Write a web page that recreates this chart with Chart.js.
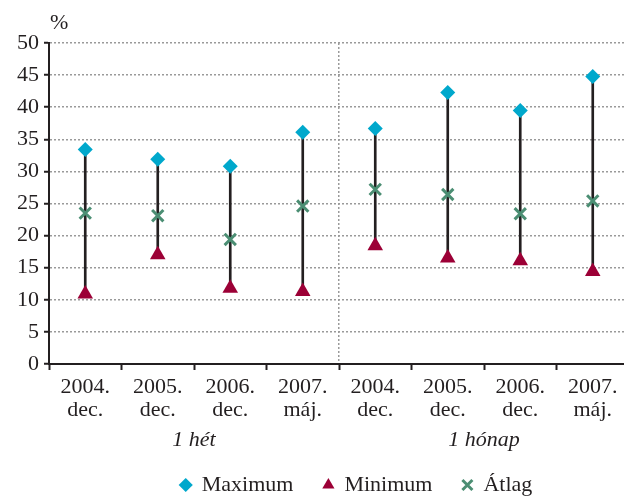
<!DOCTYPE html>
<html>
<head>
<meta charset="utf-8">
<script src="https://cdn.jsdelivr.net/npm/chart.js@4"></script>
<style>
  body { margin: 0; overflow: hidden; background: #fff; }
  canvas { display: block; }
</style>
</head>
<body>
<canvas id="chart" width="640" height="496"></canvas>
<script>
// categories
const years = ["2004.", "2005.", "2006.", "2007.", "2004.", "2005.", "2006.", "2007."];
const months = ["dec.", "dec.", "dec.", "máj.", "dec.", "dec.", "dec.", "máj."];
const groups = ["1 hét", "1 hónap"];

// series values (%)
const maxVals = [33.4, 31.9, 30.8, 36.1, 36.7, 42.3, 39.5, 44.8];
const minVals = [10.9, 17.0, 11.8, 11.3, 18.4, 16.5, 16.1, 14.4];
const avgVals = [23.5, 23.1, 19.4, 24.6, 27.2, 26.4, 23.4, 25.4];

const ink = "#231f20";
const dots = "#9a9a9a";

Chart.defaults.font.family = "'Liberation Serif', 'Times New Roman', serif";
Chart.defaults.font.size = 22;
Chart.defaults.color = ink;

// "%" above the value axis, legend nudged like the original
const extras = {
    id: "extras",
    afterLayout(chart) {
        const lg = chart.legend;
        lg.left += 40;
        lg.right += 40;
        lg.top -= 18;
        lg.bottom -= 18;
    },
    afterDraw(chart) {
        const ctx = chart.ctx;
        ctx.save();
        ctx.font = "22px 'Liberation Serif', serif";
        ctx.fillStyle = ink;
        ctx.textAlign = "left";
        ctx.textBaseline = "middle";
        ctx.fillText("%", chart.chartArea.left + 1, chart.chartArea.top - 20);
        ctx.restore();
    }
};

new Chart("chart", {
    type: "bar",
    data: {
        labels: years.map((y, i) => [y, months[i]]),
        datasets: [{
            label: "range",
            data: minVals.map((v, i) => [v, maxVals[i]]),
            backgroundColor: ink,
            borderWidth: 0,
            barThickness: 2,
            order: 4
        }, {
            type: "line",
            label: "Maximum",
            data: maxVals,
            showLine: false,
            pointStyle: "rectRot",
            pointRadius: 7.5,
            pointHoverRadius: 7.5,
            pointBackgroundColor: "#00a8cc",
            pointBorderColor: "#00a8cc",
            pointBorderWidth: 0,
            order: 1
        }, {
            type: "line",
            label: "Minimum",
            data: minVals,
            showLine: false,
            pointStyle: "triangle",
            pointRadius: 9,
            pointHoverRadius: 9,
            pointBackgroundColor: "#9c0036",
            pointBorderColor: "#9c0036",
            pointBorderWidth: 0,
            order: 2
        }, {
            type: "line",
            label: "Átlag",
            data: avgVals,
            showLine: false,
            pointStyle: "crossRot",
            pointRadius: 8,
            pointHoverRadius: 8,
            pointBackgroundColor: "#4b8e73",
            pointBorderColor: "#4b8e73",
            pointBorderWidth: 3,
            order: 3
        }]
    },
    options: {
        responsive: false,
        animation: false,
        layout: {
            padding: { top: 43, right: 7, bottom: -28, left: 0 }
        },
        scales: {
            x: {
                offset: true,
                grid: {
                    offset: true,
                    drawOnChartArea: false,
                    tickLength: 6,
                    tickColor: ink,
                    tickWidth: 2,
                    tickBorderDash: []
                },
                border: { color: ink, width: 2 },
                ticks: { padding: 5.5, font: { lineHeight: 1.05 }, maxRotation: 0 },
                afterFit: (scale) => { scale.height = 62; }
            },
            x2: {
                type: "category",
                position: "bottom",
                labels: groups,
                offset: true,
                grid: {
                    offset: true,
                    drawTicks: false,
                    lineWidth: 1.5,
                    color: (c) => c.index === 1 ? dots : "transparent"
                },
                border: { display: false, dash: [2, 2] },
                ticks: { padding: 1, font: { style: "italic" } },
                afterFit: (scale) => { scale.height = 36; }
            },
            y: {
                min: 0,
                max: 50,
                ticks: { stepSize: 5, padding: 5 },
                grid: {
                    lineWidth: 1.5,
                    color: (c) => c.tick && c.tick.value === 0 ? "transparent" : dots,
                    tickLength: 5,
                    tickColor: ink,
                    tickWidth: 2,
                    tickBorderDash: []
                },
                border: { color: ink, width: 2, dash: [2, 2] },
                afterFit: (scale) => { scale.width = 49; }
            }
        },
        plugins: {
            legend: {
                position: "bottom",
                labels: {
                    usePointStyle: true,
                    boxWidth: 10,
                    boxHeight: 10,
                    padding: 30,
                    color: ink,
                    filter: (item) => item.text !== "range"
                }
            },
            tooltip: { enabled: false }
        }
    },
    plugins: [extras]
});
</script>
</body>
</html>
